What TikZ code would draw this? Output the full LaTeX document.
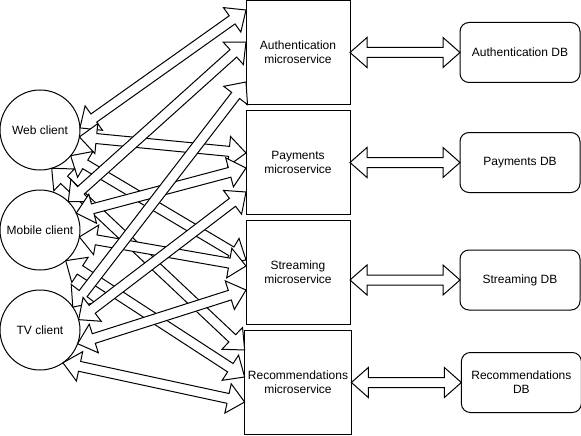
\documentclass[tikz,border=0pt]{standalone}
\usepackage{fontspec}
\setmainfont{Liberation Sans}
\usetikzlibrary{positioning, calc}
\tikzstyle{client} = [circle, minimum size=80pt, inner sep=0pt, outer sep=0pt, draw=black, fill=white, line width=1pt]
\tikzstyle{service} = [rectangle, minimum width=104pt, minimum height=104pt, align=center, outer sep=0pt, draw=black, fill=white, line width=1pt]
\tikzstyle{database} = [rectangle, rounded corners=9pt, minimum width=120pt, minimum height=60pt, align=center, outer sep=0pt, draw=black, fill=white, line width=1pt]
\tikzstyle{flex} = [draw=black, fill=white, line width=1pt, line join=miter]
\newcommand{\flexsw}{5pt}
\newcommand{\flexhw}{15pt}
\newcommand{\flexhl}{17pt}
\newcommand{\flexarrow}[2]{%
  \coordinate (fa1) at ($(#1)!\flexhl!(#2)$);
  \coordinate (fa2) at ($(#2)!\flexhl!(#1)$);
  \draw[flex] (#1) -- ($(fa1)!\flexhw!90:(#2)$) -- ($(fa1)!\flexsw!90:(#2)$)
    -- ($(fa2)!\flexsw!-90:(#1)$) -- ($(fa2)!\flexhw!-90:(#1)$) -- (#2)
    -- ($(fa2)!\flexhw!90:(#1)$) -- ($(fa2)!\flexsw!90:(#1)$)
    -- ($(fa1)!\flexsw!-90:(#2)$) -- ($(fa1)!\flexhw!-90:(#2)$) -- cycle;}

\begin{document}
\begin{tikzpicture}[x=1pt, y=-1pt, font=\fontsize{12}{14}\selectfont]
				\useasboundingbox (0,0) rectangle (581,436);
				% clients
				\node (web) [client] at (40,130) {Web client};
				\node (mobile) [client, below=20pt of web] {Mobile client};
				\node (tv) [client, below=20pt of mobile] {TV client};
				% microservices
				\node (auth) [service] at (298,52.5) {Authentication\\microservice};
				\node (pay) [service, below=6pt of auth] {Payments\\microservice};
				\node (stream) [service, below=6pt of pay] {Streaming\\microservice};
				\node (rec) [service, below=6pt of stream] {Recommendations\\microservice};
				% databases
				\node (authdb) [database, right=110pt of auth] {Authentication DB};
				\node (paydb) [database, right=110pt of pay] {Payments DB};
				\node (streamdb) [database, right=110pt of stream, yshift=-7.5pt] {Streaming DB};
				\node (recdb) [database, right=110pt of rec] {Recommendations\\DB};
				\coordinate (streamout) at (stream.east |- streamdb.west);
				
				% entry points on the left side of each microservice
				\foreach \svc/\a/\b/\c in {auth/42.5/10.5/-29.5, pay/9.5/-5.5/-29.5, stream/12.5/6.5/-17.5, rec/32.5/5.5/-19.5} {
					\coordinate (\svc1) at ([yshift=\a pt]\svc.west);
					\coordinate (\svc2) at ([yshift=\b pt]\svc.west);
					\coordinate (\svc3) at ([yshift=\c pt]\svc.west);
				}
				
				\foreach \cl/\k/\s in {web/3/auth1, web/-10/pay1, web/-40/stream1, web/-73/rec1,
					mobile/45/auth2, mobile/25/pay2, mobile/-10/stream2, mobile/-50/rec2,
					tv/35/auth3, tv/15/pay3, tv/-20/stream3, tv/-55/rec3}
					\flexarrow{\cl.\k}{\s};
				
				\flexarrow{auth.east}{authdb.west}
				\flexarrow{pay.east}{paydb.west}
				\flexarrow{streamout}{streamdb.west}
				\flexarrow{rec.east}{recdb.west}
			\end{tikzpicture}
\end{document}
